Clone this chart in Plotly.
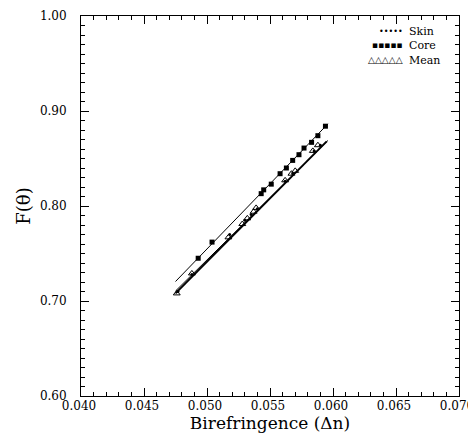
import plotly.graph_objects as go

# ---- data ----
skin_dn = [0.0477, 0.0488, 0.0518, 0.0530, 0.0535, 0.0540, 0.0562, 0.0568, 0.0585, 0.0590]
skin_f  = [0.710, 0.728, 0.770, 0.785, 0.791, 0.797, 0.826, 0.834, 0.858, 0.864]

core_dn = [0.0493, 0.0504, 0.0543, 0.0545, 0.0551, 0.0558, 0.0563, 0.0568, 0.0573, 0.0577, 0.0583, 0.0588, 0.0594]
core_f  = [0.745, 0.762, 0.813, 0.817, 0.823, 0.834, 0.840, 0.848, 0.854, 0.861, 0.867, 0.874, 0.884]

mean_dn = [0.0476, 0.0488, 0.0517, 0.0528, 0.0532, 0.0537, 0.0539, 0.0562, 0.0567, 0.0570, 0.0584, 0.0588]
mean_f  = [0.708, 0.729, 0.767, 0.781, 0.787, 0.794, 0.798, 0.827, 0.834, 0.837, 0.858, 0.864]

# fitted lines (end points)
core_fit_dn = [0.0475, 0.0596]
core_fit_f  = [0.7205, 0.8865]
skin_fit_dn = [0.0475, 0.0596]
skin_fit_f  = [0.7105, 0.8690]
mean_fit_dn = [0.0475, 0.0595]
mean_fit_f  = [0.7080, 0.8680]

series_names = ["Skin", "Core", "Mean"]
legend_samples = ["\u2022\u2022\u2022\u2022\u2022", "\u25aa\u25aa\u25aa\u25aa\u25aa", "\u25b3\u25b3\u25b3\u25b3\u25b3"]
legend_sample_sizes = [8, 9, 9]

FONT = "DejaVu Serif"

fig = go.Figure()

# fit lines
fig.add_trace(go.Scatter(x=core_fit_dn, y=core_fit_f, mode="lines",
                         line=dict(color="black", width=1), showlegend=False, hoverinfo="skip"))
fig.add_trace(go.Scatter(x=skin_fit_dn, y=skin_fit_f, mode="lines",
                         line=dict(color="black", width=1), showlegend=False, hoverinfo="skip"))
fig.add_trace(go.Scatter(x=mean_fit_dn, y=mean_fit_f, mode="lines",
                         line=dict(color="black", width=2), showlegend=False, hoverinfo="skip"))

# data points
fig.add_trace(go.Scatter(x=skin_dn, y=skin_f, mode="markers", name=series_names[0],
                         marker=dict(symbol="circle", size=3, color="black"), showlegend=False))
fig.add_trace(go.Scatter(x=core_dn, y=core_f, mode="markers", name=series_names[1],
                         marker=dict(symbol="square", size=5, color="black"), showlegend=False))
fig.add_trace(go.Scatter(x=mean_dn, y=mean_f, mode="markers", name=series_names[2],
                         marker=dict(symbol="triangle-up-open", size=6, color="black",
                                     line=dict(width=1, color="black")), showlegend=False))

axis_common = dict(
    showline=True, linecolor="black", linewidth=1, mirror="ticks",
    ticks="inside", ticklen=8, tickcolor="black", tickwidth=1,
    showgrid=False, zeroline=False,
    tickfont=dict(family=FONT, size=12, color="black"),
    ticklabeloverflow="allow",
)

fig.update_xaxes(
    range=[0.040, 0.070], tick0=0.040, dtick=0.005, tickformat=".3f",
    minor=dict(dtick=0.001, ticks="inside", ticklen=4, tickcolor="black"),
    ticklabelstandoff=-1, ticklabelshift=-2,
    title=dict(text="Birefringence (\u0394n)", font=dict(family=FONT, size=17, color="black"),
               standoff=11),
    **axis_common,
)
fig.update_yaxes(
    range=[0.60, 1.00], tick0=0.60, dtick=0.10, tickformat=".2f",
    minor=dict(dtick=0.01, ticks="inside", ticklen=4, tickcolor="black"),
    ticklabelstandoff=11,
    title=dict(text="F(\u03b8)", font=dict(family=FONT, size=18, color="black"),
               standoff=4),
    **axis_common,
)

# legend drawn as text (one block of names, one block of marker samples)
sample_text = "<br>".join(
    f'<span style="font-size:{s}px">{t}</span>' for t, s in zip(legend_samples, legend_sample_sizes)
)
fig.add_annotation(xref="paper", yref="paper", x=0.857, y=0.921, xanchor="right", yanchor="middle",
                   text=sample_text, showarrow=False, align="right",
                   font=dict(family="DejaVu Sans", size=11, color="black"))
fig.add_annotation(xref="paper", yref="paper", x=0.862, y=0.921, xanchor="left", yanchor="middle",
                   text="<br>".join(series_names), showarrow=False, align="left",
                   font=dict(family=FONT, size=11, color="black"))

# the page body has an 8px margin, so the figure is sized to fit the window
fig.update_layout(
    width=468, height=425,
    margin=dict(l=73, r=17, t=8, b=37, autoexpand=False),
    paper_bgcolor="white", plot_bgcolor="white",
    font=dict(family=FONT, color="black"),
    showlegend=False,
)

fig.write_html("out.html")
